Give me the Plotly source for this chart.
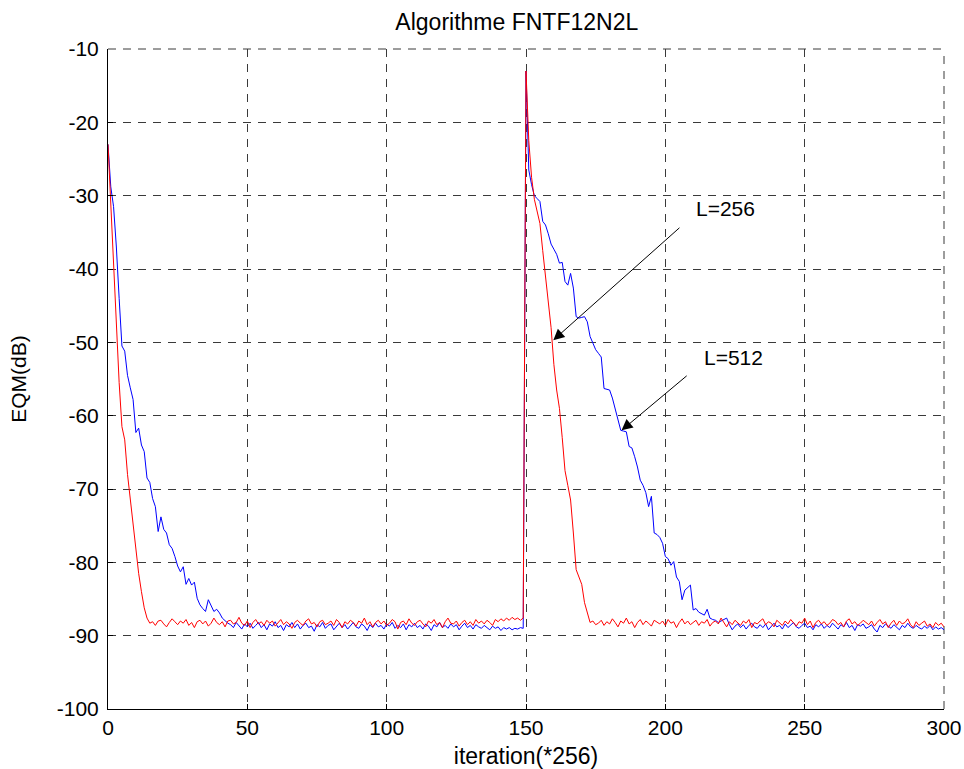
import plotly.graph_objects as go

# ---------------- data ----------------
iterations = list(range(0, 301))

# L=256 (red)
red_decay1 = [-23.0, -31.0, -40.0, -49.0, -55.5, -61.5, -63.3, -68.0, -71.5, -75.0,
              -78.5, -81.5, -84.0, -86.2, -87.6]
red_floor1 = [
    -88.3, -88.1, -88.6, -88.0, -87.9, -88.4, -88.8, -88.2, -87.7, -88.1,
    -88.5, -88.0, -88.3, -87.8, -88.6, -88.2, -88.9, -88.1, -87.9, -88.4,
    -88.0, -88.7, -88.3, -87.6, -88.2, -88.5, -88.1, -88.8, -88.0, -87.9,
    -88.4, -88.2, -87.5, -88.3, -88.6, -88.0, -88.9, -88.2, -87.8, -88.4,
    -88.1, -88.6, -87.9, -88.3, -88.0, -88.7, -88.2, -87.8, -88.5, -88.1,
    -88.4, -89.0, -88.2, -87.9, -88.3, -88.6, -88.0, -87.7, -88.4, -88.2,
    -88.8, -88.1, -87.9, -88.5, -88.3, -88.0, -88.6, -87.8, -88.2, -88.9,
    -88.1, -88.4, -87.9, -88.2, -88.7, -88.0, -88.3, -87.6, -88.5, -88.1,
    -88.8, -88.2, -87.9, -88.4, -88.0, -88.6, -88.3, -87.8, -88.1, -89.1,
    -88.2, -88.0, -88.5, -87.7, -88.3, -88.6, -88.1, -87.9, -88.4, -88.8,
    -88.0, -88.3, -87.8, -88.5, -88.2, -88.9, -88.1, -87.6, -88.3, -88.4,
    -88.0, -88.7, -88.2, -87.9, -88.5, -88.1, -88.6, -87.8, -88.3, -88.0,
    -88.4, -87.9, -88.2, -88.6, -87.8, -88.1, -87.7, -88.0, -87.6, -87.9,
    -87.5, -87.8, -87.6, -87.9, -87.6]
red_decay2 = [-13.0, -22.5, -27.5, -30.5, -32.0, -33.8, -37.5, -41.5, -44.5, -48.0,
              -53.0, -56.5, -59.0, -63.0, -67.5, -69.5, -71.5, -76.0, -81.0, -82.0,
              -83.0, -85.5, -86.8]
red_floor2 = [
    -88.2, -88.0, -88.5, -88.3, -87.9, -88.6, -88.1, -88.4, -87.7, -88.2,
    -88.8, -88.0, -88.3, -87.6, -88.4, -88.1, -88.9, -88.2, -87.8, -88.5,
    -88.0, -88.3, -88.7, -87.9, -88.2, -88.4, -88.0, -88.6, -87.8, -88.3,
    -88.1, -88.9, -88.2, -87.7, -88.4, -88.0, -88.5, -88.2, -87.9, -88.6,
    -88.1, -88.3, -87.8, -88.7, -88.2, -88.0, -88.4, -87.6, -88.3, -88.8,
    -88.1, -88.5, -87.9, -88.2, -88.6, -88.0, -88.3, -87.8, -88.9, -88.2,
    -88.4, -88.0, -87.7, -88.5, -88.1, -88.3, -88.8, -87.9, -88.2, -88.6,
    -88.0, -88.4, -87.8, -88.2, -88.7, -88.1, -88.3, -87.6, -88.5, -88.0,
    -88.9, -88.2, -87.9, -88.4, -88.1, -88.6, -88.3, -87.8, -88.0, -88.5,
    -88.2, -88.8, -88.0, -87.7, -88.4, -88.1, -88.6, -88.3, -87.9, -88.2,
    -88.5, -88.0, -88.7, -88.2, -87.8, -88.4, -88.1, -88.9, -88.3, -87.9,
    -88.6, -88.0, -88.4, -88.2, -87.7, -88.5, -88.9, -88.1, -88.6, -88.3,
    -88.0, -88.7, -88.4, -88.9, -88.2, -88.6, -88.3, -88.8]

# L=512 (blue)
blue_decay1 = [-23.0, -28.8, -31.5, -37.0, -44.0, -50.5, -51.2, -54.5, -56.2, -57.8,
               -62.3, -61.7, -64.0, -64.9, -68.5, -69.1, -71.3, -72.4, -75.8, -73.8,
               -75.5, -76.0, -77.6, -78.1, -79.2, -80.5, -81.3, -80.6, -83.0, -82.2,
               -83.1, -82.7, -84.9, -85.8, -86.3, -86.7, -85.1, -86.0, -86.7, -86.4,
               -86.9, -87.6, -88.0, -88.3]
blue_floor1 = [
    -88.5, -88.9, -88.2, -88.7, -89.1, -88.4, -88.8, -88.3, -89.0, -88.6,
    -88.2, -88.9, -88.5, -89.2, -88.4, -88.7, -88.1, -88.9, -88.6, -89.3,
    -88.5, -88.8, -88.2, -88.9, -88.4, -89.1, -88.6, -88.3, -88.9, -88.7,
    -89.4, -88.5, -88.8, -88.2, -89.0, -88.6, -88.4, -89.2, -88.7, -88.3,
    -88.9, -88.5, -89.1, -88.6, -88.2, -88.8, -89.0, -88.4, -88.7, -89.3,
    -88.5, -88.9, -88.3, -88.8, -88.6, -89.1, -88.4, -88.7, -88.2, -89.0,
    -88.6, -88.9, -88.4, -89.2, -88.5, -88.8, -88.3, -88.9, -88.6, -89.1,
    -88.4, -88.7, -89.3, -88.5, -88.8, -88.2, -88.9, -88.6, -89.0, -88.4,
    -88.8, -88.5, -89.2, -88.7, -88.3, -88.9, -88.6, -89.1, -88.5, -88.8,
    -89.0, -88.6, -88.9, -89.2, -88.7, -89.0, -88.8, -89.3, -88.9, -89.1,
    -88.9, -89.2, -89.0, -89.1, -88.9, -89.0]
blue_decay2 = [
    -13.0, -26.5, -28.5, -30.0, -30.4, -30.8, -33.5, -34.0, -35.2, -36.6,
    -37.3, -38.0, -39.2, -39.1, -41.7, -42.2, -40.6, -42.6, -46.5, -46.7,
    -46.6, -46.5, -47.2, -49.2, -50.1, -51.0, -51.5, -52.0, -56.3, -56.4,
    -56.5, -57.6, -59.0, -60.5, -62.0, -62.1, -62.2, -64.2, -64.4, -65.6,
    -67.0, -68.8, -69.5, -70.5, -72.4, -71.0, -76.0, -76.2, -76.6, -77.4,
    -79.2, -79.5, -80.4, -79.9, -82.0, -82.6, -85.1, -83.8, -83.4, -83.1,
    -86.5, -86.3, -86.8, -87.0, -87.2, -86.4, -87.6, -87.8, -87.9, -88.2,
    -88.0, -87.8, -87.6, -88.5]
blue_floor2 = [
    -89.2, -88.7, -88.4, -88.9, -88.5, -89.1, -88.6, -88.3, -88.8, -89.0,
    -88.5, -88.9, -88.4, -89.2, -88.7, -88.3, -88.8, -88.6, -89.1, -88.4,
    -88.9, -88.5, -88.2, -88.8, -89.0, -88.6, -88.3, -88.9, -88.7, -89.2,
    -88.5, -88.8, -88.4, -89.0, -88.6, -88.9, -88.3, -88.7, -89.1, -88.5,
    -88.8, -88.2, -88.9, -88.6, -89.3, -88.5, -88.7, -88.4, -89.0, -88.8,
    -88.5, -89.1, -89.5, -88.6, -88.9, -88.4, -88.7, -89.0, -88.5, -88.8,
    -89.2, -88.6, -88.9, -88.3, -88.8, -89.0, -88.6, -88.9, -89.1, -88.7,
    -89.0, -88.6, -89.2, -88.8, -89.1, -88.9, -89.2]

eqm_L256 = red_decay1 + red_floor1 + red_decay2 + red_floor2
eqm_L512 = blue_decay1 + blue_floor1 + blue_decay2 + blue_floor2

x_ticks = [0, 50, 100, 150, 200, 250, 300]
x_tick_labels = ["0", "50", "100", "150", "200", "250", "300"]
y_ticks = [-10, -20, -30, -40, -50, -60, -70, -80, -90, -100]
y_tick_labels = ["-10", "-20", "-30", "-40", "-50", "-60", "-70", "-80", "-90", "-100"]

# annotation anchors (label, arrow head x/y, tail x/y)
ann_labels = ["L=256", "L=512"]
ann_head_x = [159.8, 184.3]
ann_head_y = [-49.7, -62.0]
ann_tail_x = [205.6, 208.2]
ann_tail_y = [-34.2, -54.4]
ann_text_x = [221.5, 224.5]
ann_text_y = [-31.8, -52.1]

# ---------------- figure ----------------
FONT = "Liberation Sans, Arial, sans-serif"
GRID = "#3a3a3a"
DASH = "8px,7px"

fig = go.Figure()
fig.add_trace(go.Scatter(x=iterations, y=eqm_L512, mode="lines",
                         line=dict(color="#0000FF", width=1), name="L=512"))
fig.add_trace(go.Scatter(x=iterations, y=eqm_L256, mode="lines",
                         line=dict(color="#FF0000", width=1), name="L=256"))

for i in range(len(ann_labels)):
    fig.add_annotation(x=ann_head_x[i], y=ann_head_y[i], ax=ann_tail_x[i], ay=ann_tail_y[i],
                       xref="x", yref="y", axref="x", ayref="y", text="",
                       showarrow=True, arrowhead=2, arrowsize=2.2, arrowwidth=1,
                       arrowcolor="black")
    fig.add_annotation(x=ann_text_x[i], y=ann_text_y[i], xref="x", yref="y",
                       text=ann_labels[i], showarrow=False,
                       font=dict(family=FONT, size=21, color="black"))

# dashed top and right frame edges (gridlines at the range limits)
fig.add_shape(type="line", xref="paper", yref="paper", x0=0, x1=1, y0=1, y1=1,
              line=dict(color=GRID, width=1, dash=DASH), layer="below")
fig.add_shape(type="line", xref="paper", yref="paper", x0=1, x1=1, y0=0, y1=1,
              line=dict(color=GRID, width=1, dash=DASH), layer="below")

fig.update_layout(
    width=964, height=769,
    margin=dict(l=108, r=20, t=49, b=60, autoexpand=False),
    paper_bgcolor="white", plot_bgcolor="white",
    showlegend=False,
    title=dict(text="Algorithme FNTF12N2L", xref="paper", x=0.489, xanchor="center",
               y=0.971, yanchor="middle",
               font=dict(family=FONT, size=23, color="black")),
    font=dict(family=FONT, size=21, color="black"),
)
fig.update_xaxes(range=[0, 300], tickvals=x_ticks, ticktext=x_tick_labels,
                 ticks="inside", ticklen=5,
                 tickcolor="black", showline=True, linecolor="black", linewidth=1,
                 showgrid=True, gridcolor=GRID, griddash=DASH, gridwidth=1,
                 zeroline=False, mirror=False, automargin=False,
                 title=dict(text="iteration(*256)", standoff=12,
                            font=dict(family=FONT, size=23)),
                 tickfont=dict(family=FONT, size=21))
fig.update_yaxes(range=[-100, -10], tickvals=y_ticks, ticktext=y_tick_labels,
                 ticks="inside", ticklen=5, ticklabelstandoff=4,
                 tickcolor="black", showline=True, linecolor="black", linewidth=1,
                 showgrid=True, gridcolor=GRID, griddash=DASH, gridwidth=1,
                 zeroline=False, mirror=False, automargin=False,
                 title=dict(text="EQM(dB)", standoff=24,
                            font=dict(family=FONT, size=21)),
                 tickfont=dict(family=FONT, size=21))

fig.write_html("out.html")
